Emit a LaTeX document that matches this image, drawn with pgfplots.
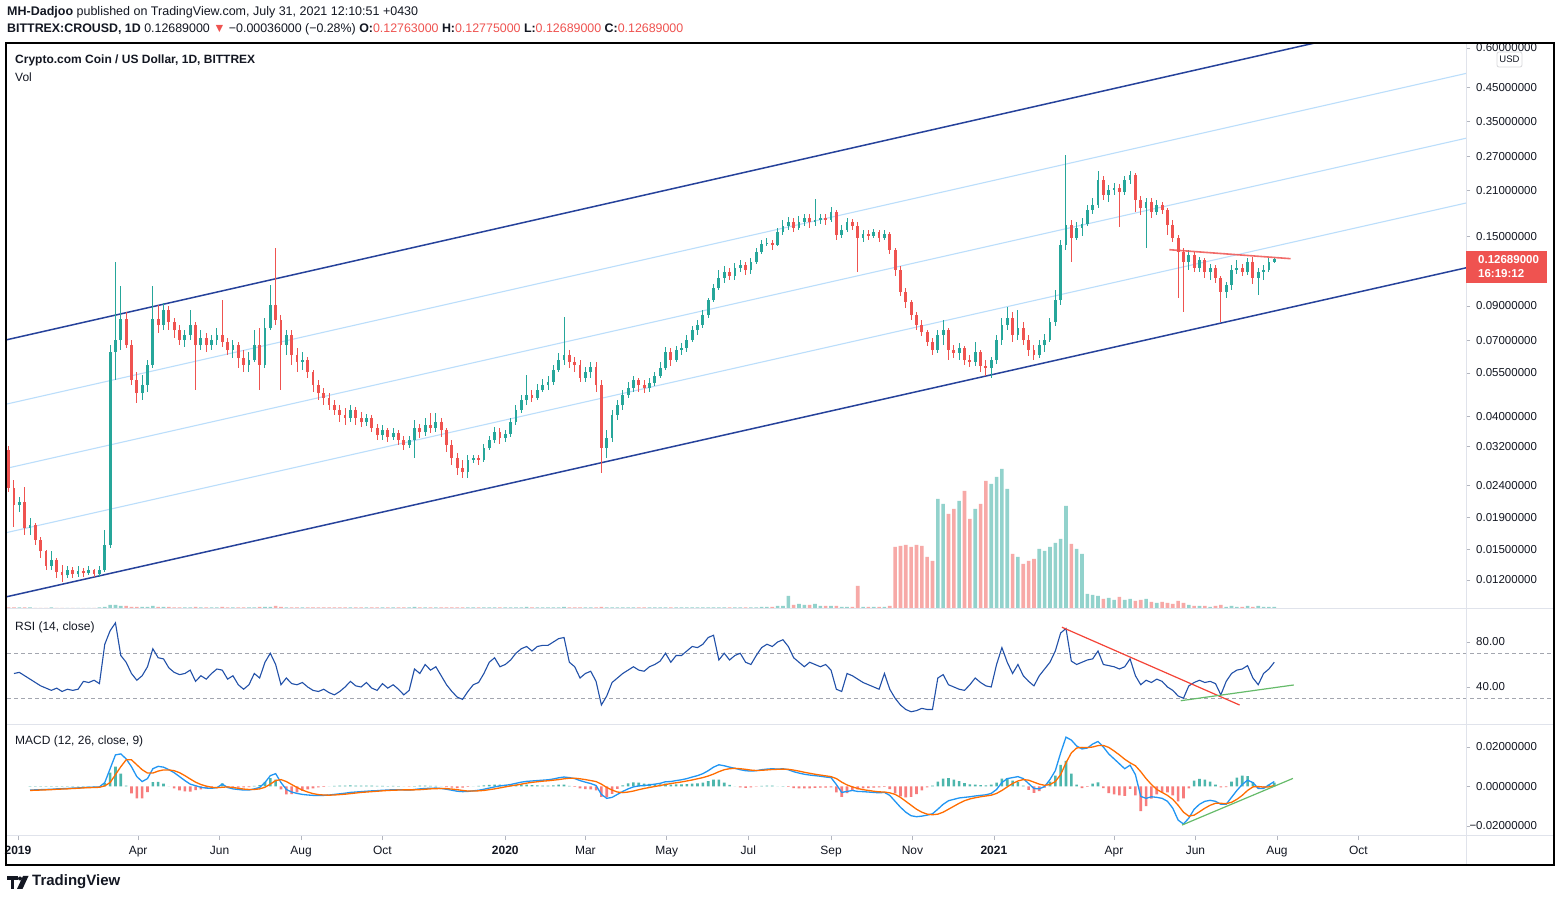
\documentclass[border=0pt]{standalone}
\usepackage{fontspec}
\setmainfont{Liberation Sans}
\usepackage{pgfplots}
\usepackage{pgfplotstable}
\pgfplotsset{compat=1.18}
\definecolor{cgreen}{HTML}{26A69A}
\definecolor{cred}{HTML}{EF5350}
\definecolor{vgreen}{HTML}{92D2CC}
\definecolor{vred}{HTML}{F7A9A7}
\definecolor{chdark}{HTML}{26429B}
\definecolor{chlight}{HTML}{BBDEFB}
\definecolor{rsic}{HTML}{2150A8}
\definecolor{macdc}{HTML}{2196F3}
\definecolor{sigc}{HTML}{FF6D00}
\definecolor{hpos}{HTML}{4DB6AC}
\definecolor{hneg}{HTML}{F77C7C}
\definecolor{txt}{HTML}{131722}
\definecolor{sepc}{HTML}{E0E3EB}
\definecolor{tickc}{HTML}{B2B5BE}
\definecolor{dashc}{HTML}{A3A6AF}
\definecolor{trred}{HTML}{F44336}
\definecolor{trgreen}{HTML}{66BB6A}

% d = days since 2019-01-01 (4-day candles); o h l c in USD; v volume (scaled); r RSI; m MACD; s signal
\pgfplotstableread{
d o h l c v r m s
-7 0.0312 0.0322 0.0229 0.0236 1.5 nan nan nan
-3 0.0236 0.0250 0.0177 0.0208 1.5 52 nan nan
1 0.0208 0.0221 0.0198 0.0213 1.5 53 nan nan
5 0.0213 0.0238 0.0167 0.0176 1.5 50 nan nan
9 0.0176 0.0189 0.0167 0.0180 1.5 47 -0.0018 -0.0020
13 0.0180 0.0183 0.0155 0.0161 1.2 44 -0.0017 -0.0019
17 0.0161 0.0164 0.0141 0.0148 1.2 41 -0.0016 -0.0018
21 0.0148 0.0150 0.0129 0.0133 1.2 39 -0.0015 -0.0017
25 0.0133 0.0148 0.0129 0.0139 1.5 37 -0.0014 -0.0016
29 0.0139 0.0141 0.0122 0.0127 1.2 39 -0.0012 -0.0014
33 0.0127 0.0134 0.0118 0.0124 1.2 36 -0.0011 -0.0013
37 0.0124 0.0133 0.0122 0.0129 1.2 38 -0.0010 -0.0012
41 0.0129 0.0132 0.0122 0.0125 1.2 37 -0.0008 -0.0010
45 0.0125 0.0133 0.0123 0.0128 1.2 38 -0.0007 -0.0009
49 0.0128 0.0131 0.0123 0.0126 1.2 45 -0.0005 -0.0007
53 0.0126 0.0133 0.0124 0.0129 1.2 44 -0.0004 -0.0006
57 0.0129 0.0130 0.0123 0.0125 1.2 46 -0.0003 -0.0005
61 0.0125 0.0133 0.0123 0.0129 1.5 43 -0.0002 -0.0004
65 0.0129 0.0173 0.0127 0.0155 2 78 0.0020 0.0003
69 0.0155 0.0675 0.0152 0.0641 4 90 0.0090 0.0020
73 0.0641 0.1245 0.0522 0.0701 4 97 0.0160 0.0060
77 0.0701 0.1040 0.0651 0.0818 3 68 0.0165 0.0100
81 0.0818 0.0861 0.0663 0.0675 3 62 0.0140 0.0135
85 0.0675 0.0701 0.0503 0.0522 2 52 0.0100 0.0135
89 0.0522 0.0553 0.0441 0.0474 2 46 0.0050 0.0110
93 0.0474 0.0541 0.0451 0.0503 2 50 0.0025 0.0085
97 0.0503 0.0605 0.0478 0.0583 2 58 0.0040 0.0068
101 0.0583 0.1040 0.0570 0.0818 3 74 0.0090 0.0068
105 0.0818 0.0907 0.0738 0.0783 2 66 0.0102 0.0078
109 0.0783 0.0918 0.0754 0.0874 2 65 0.0098 0.0084
113 0.0874 0.0900 0.0754 0.0800 2 57 0.0085 0.0084
117 0.0800 0.0824 0.0711 0.0754 1.5 53 0.0070 0.0080
121 0.0754 0.0783 0.0675 0.0701 1.5 51 0.0050 0.0070
125 0.0701 0.0754 0.0665 0.0727 1.5 52 0.0030 0.0055
129 0.0727 0.0874 0.0701 0.0783 1.5 55 0.0012 0.0038
133 0.0783 0.0800 0.0485 0.0675 2 45 0.0004 0.0022
137 0.0675 0.0754 0.0651 0.0711 1.5 50 -0.0004 0.0010
141 0.0711 0.0738 0.0642 0.0675 1.5 47 -0.0008 0.0002
145 0.0675 0.0727 0.0651 0.0701 1.5 52 -0.0009 -0.0004
149 0.0701 0.0766 0.0675 0.0727 1.5 56 -0.0006 -0.0006
153 0.0727 0.0940 0.0665 0.0691 2 55 0.0012 -0.0004
157 0.0691 0.0711 0.0627 0.0651 1.5 47 -0.0005 -0.0002
161 0.0651 0.0701 0.0614 0.0675 1.5 50 -0.0012 -0.0005
165 0.0675 0.0691 0.0570 0.0614 1.5 42 -0.0015 -0.0009
169 0.0614 0.0651 0.0553 0.0583 1.5 38 -0.0018 -0.0013
173 0.0583 0.0642 0.0553 0.0605 1.5 42 -0.0018 -0.0015
177 0.0605 0.0754 0.0596 0.0675 1.5 52 -0.0012 -0.0015
181 0.0675 0.0766 0.0485 0.0583 2 48 -0.0005 -0.0012
185 0.0583 0.0824 0.0570 0.0766 2 62 0.0020 -0.0004
189 0.0766 0.1050 0.0754 0.0907 2 70 0.0055 0.0012
193 0.0907 0.1381 0.0783 0.0812 3 60 0.0065 0.0030
197 0.0812 0.0842 0.0485 0.0675 2 42 0.0020 0.0035
201 0.0675 0.0754 0.0627 0.0727 1.5 48 -0.0015 0.0025
205 0.0727 0.0754 0.0583 0.0627 1.5 43 -0.0028 0.0010
209 0.0627 0.0660 0.0553 0.0596 1.5 42 -0.0035 -0.0005
213 0.0596 0.0642 0.0562 0.0605 1.5 44 -0.0040 -0.0018
217 0.0605 0.0618 0.0530 0.0553 1.5 40 -0.0043 -0.0028
221 0.0553 0.0562 0.0478 0.0503 1.5 37 -0.0045 -0.0036
225 0.0503 0.0522 0.0451 0.0474 1.5 36 -0.0046 -0.0041
229 0.0474 0.0492 0.0434 0.0458 1.5 38 -0.0045 -0.0043
233 0.0458 0.0474 0.0419 0.0434 1.5 35 -0.0043 -0.0044
237 0.0434 0.0451 0.0404 0.0419 1.5 33 -0.0040 -0.0043
241 0.0419 0.0434 0.0383 0.0404 1.5 36 -0.0037 -0.0041
245 0.0404 0.0425 0.0375 0.0395 1.5 40 -0.0034 -0.0039
249 0.0395 0.0434 0.0383 0.0419 1.5 45 -0.0030 -0.0036
253 0.0419 0.0428 0.0375 0.0395 1.5 41 -0.0028 -0.0033
257 0.0395 0.0413 0.0370 0.0383 1.5 40 -0.0026 -0.0030
261 0.0383 0.0407 0.0372 0.0395 1.5 44 -0.0024 -0.0028
265 0.0395 0.0404 0.0356 0.0367 1.5 39 -0.0022 -0.0026
269 0.0367 0.0378 0.0336 0.0348 1.5 37 -0.0021 -0.0024
273 0.0348 0.0375 0.0336 0.0361 1.5 43 -0.0019 -0.0022
277 0.0361 0.0367 0.0331 0.0343 1.5 39 -0.0018 -0.0020
281 0.0343 0.0367 0.0336 0.0353 1.5 42 -0.0016 -0.0019
285 0.0353 0.0361 0.0324 0.0336 1.5 38 -0.0016 -0.0018
289 0.0336 0.0346 0.0312 0.0324 1.5 33 -0.0017 -0.0017
293 0.0324 0.0346 0.0317 0.0336 1.5 37 -0.0018 -0.0017
297 0.0336 0.0389 0.0294 0.0367 2 56 -0.0015 -0.0017
301 0.0367 0.0378 0.0341 0.0356 1.5 52 -0.0012 -0.0016
305 0.0356 0.0395 0.0346 0.0375 1.5 60 -0.0010 -0.0014
309 0.0375 0.0410 0.0353 0.0367 1.5 55 -0.0009 -0.0012
313 0.0367 0.0410 0.0356 0.0383 1.5 58 -0.0008 -0.0011
317 0.0383 0.0395 0.0343 0.0361 1.5 50 -0.0010 -0.0010
321 0.0361 0.0367 0.0308 0.0324 1.5 42 -0.0014 -0.0011
325 0.0324 0.0336 0.0279 0.0294 1.5 36 -0.0019 -0.0013
329 0.0294 0.0305 0.0259 0.0273 1.5 31 -0.0024 -0.0016
333 0.0273 0.0290 0.0254 0.0265 1.5 29 -0.0026 -0.0020
337 0.0265 0.0301 0.0254 0.0290 1.5 36 -0.0025 -0.0023
341 0.0290 0.0301 0.0283 0.0294 1.5 42 -0.0022 -0.0023
345 0.0294 0.0301 0.0279 0.0290 1.5 44 -0.0019 -0.0022
349 0.0290 0.0326 0.0286 0.0317 1.5 52 -0.0014 -0.0020
353 0.0317 0.0346 0.0312 0.0336 1.5 62 -0.0008 -0.0016
357 0.0336 0.0370 0.0329 0.0356 1.5 66 -0.0002 -0.0012
361 0.0356 0.0367 0.0326 0.0341 1.5 58 0.0003 -0.0007
365 0.0341 0.0361 0.0331 0.0351 1.5 60 0.0006 -0.0002
369 0.0351 0.0395 0.0343 0.0383 1.5 64 0.0010 0.0003
373 0.0383 0.0434 0.0375 0.0419 1.5 70 0.0016 0.0007
377 0.0419 0.0467 0.0410 0.0451 1.5 74 0.0022 0.0012
381 0.0451 0.0541 0.0434 0.0467 2 76 0.0026 0.0017
385 0.0467 0.0485 0.0444 0.0458 1.5 72 0.0028 0.0021
389 0.0458 0.0507 0.0451 0.0485 1.5 76 0.0030 0.0024
393 0.0485 0.0526 0.0478 0.0503 1.5 77 0.0032 0.0027
397 0.0503 0.0537 0.0485 0.0515 1.5 77 0.0034 0.0029
401 0.0515 0.0583 0.0503 0.0562 1.5 80 0.0038 0.0032
405 0.0562 0.0637 0.0553 0.0605 1.5 83 0.0044 0.0035
409 0.0605 0.0830 0.0583 0.0627 2 84 0.0048 0.0039
413 0.0627 0.0651 0.0570 0.0596 1.5 62 0.0045 0.0042
417 0.0596 0.0618 0.0553 0.0583 1.5 58 0.0040 0.0042
421 0.0583 0.0605 0.0515 0.0530 1.5 48 0.0030 0.0039
425 0.0530 0.0574 0.0515 0.0553 1.5 52 0.0022 0.0035
429 0.0553 0.0596 0.0530 0.0575 1.5 54 0.0015 0.0030
433 0.0575 0.0596 0.0478 0.0503 1.5 45 0.0005 0.0025
437 0.0503 0.0522 0.0263 0.0317 2 24 -0.0040 0.0012
441 0.0317 0.0361 0.0294 0.0341 1.5 32 -0.0060 -0.0005
445 0.0341 0.0419 0.0331 0.0404 1.5 44 -0.0055 -0.0018
449 0.0404 0.0451 0.0389 0.0434 1.5 48 -0.0040 -0.0028
453 0.0434 0.0485 0.0419 0.0467 1.5 52 -0.0025 -0.0031
457 0.0467 0.0515 0.0458 0.0492 1.5 55 -0.0012 -0.0028
461 0.0492 0.0537 0.0478 0.0522 1.5 58 -0.0002 -0.0023
465 0.0522 0.0530 0.0478 0.0503 1.5 55 0.0003 -0.0016
469 0.0503 0.0522 0.0474 0.0492 1.5 54 0.0005 -0.0010
473 0.0492 0.0530 0.0478 0.0511 1.5 58 0.0008 -0.0005
477 0.0511 0.0553 0.0500 0.0537 1.5 60 0.0012 0.0000
481 0.0537 0.0596 0.0530 0.0570 1.5 63 0.0016 0.0005
485 0.0570 0.0665 0.0562 0.0642 1.5 70 0.0024 0.0010
489 0.0642 0.0660 0.0579 0.0605 1.5 62 0.0025 0.0015
493 0.0605 0.0670 0.0596 0.0651 1.5 68 0.0030 0.0019
497 0.0651 0.0686 0.0627 0.0660 1.5 68 0.0034 0.0023
501 0.0660 0.0727 0.0642 0.0701 1.5 72 0.0040 0.0028
505 0.0701 0.0777 0.0691 0.0754 1.5 76 0.0048 0.0033
509 0.0754 0.0812 0.0727 0.0783 1.5 75 0.0055 0.0039
513 0.0783 0.0874 0.0766 0.0842 1.5 78 0.0065 0.0045
517 0.0842 0.0954 0.0824 0.0940 1.5 84 0.0080 0.0053
521 0.0940 0.1058 0.0926 0.1027 1.5 86 0.0098 0.0063
525 0.1027 0.1173 0.1012 0.1106 1.5 64 0.0110 0.0075
529 0.1106 0.1208 0.1066 0.1156 1.5 70 0.0105 0.0085
533 0.1156 0.1190 0.1090 0.1123 1.5 64 0.0098 0.0090
537 0.1123 0.1235 0.1090 0.1190 1.5 68 0.0092 0.0092
541 0.1190 0.1262 0.1156 0.1217 1.5 70 0.0085 0.0090
545 0.1217 0.1244 0.1131 0.1173 1.5 62 0.0080 0.0087
549 0.1173 0.1281 0.1139 0.1244 1.5 60 0.0078 0.0083
553 0.1244 0.1379 0.1226 0.1339 1.5 68 0.0080 0.0081
557 0.1339 0.1462 0.1320 0.1420 2 75 0.0085 0.0082
561 0.1420 0.1484 0.1399 0.1430 2 78 0.0088 0.0084
565 0.1430 0.1462 0.1359 0.1409 2 76 0.0090 0.0086
569 0.1409 0.1597 0.1399 0.1551 3 80 0.0088 0.0087
573 0.1551 0.1694 0.1517 0.1621 3 82 0.0090 0.0088
577 0.1621 0.1731 0.1574 0.1669 13 76 0.0085 0.0087
581 0.1669 0.1719 0.1551 0.1597 4 66 0.0075 0.0083
585 0.1597 0.1744 0.1574 0.1669 5 62 0.0068 0.0078
589 0.1669 0.1770 0.1621 0.1719 4 58 0.0062 0.0072
593 0.1719 0.1770 0.1597 0.1669 4 62 0.0058 0.0067
597 0.1669 0.1976 0.1621 0.1694 5 60 0.0055 0.0062
601 0.1694 0.1770 0.1645 0.1719 3 58 0.0052 0.0058
605 0.1719 0.1770 0.1633 0.1694 3 60 0.0048 0.0054
609 0.1694 0.1863 0.1669 0.1797 3 55 0.0045 0.0050
613 0.1797 0.1823 0.1462 0.1517 3 38 0.0010 0.0040
617 0.1517 0.1633 0.1484 0.1574 2 36 -0.0030 0.0022
621 0.1574 0.1719 0.1551 0.1669 2 52 -0.0025 0.0008
625 0.1669 0.1706 0.1574 0.1621 2 50 -0.0020 -0.0002
629 0.1621 0.1669 0.1156 0.1484 23 47 -0.0025 -0.0010
633 0.1484 0.1574 0.1441 0.1528 2 44 -0.0026 -0.0016
637 0.1528 0.1574 0.1462 0.1506 2 42 -0.0028 -0.0020
641 0.1506 0.1586 0.1484 0.1551 2 40 -0.0030 -0.0024
645 0.1551 0.1574 0.1441 0.1484 2 38 -0.0032 -0.0027
649 0.1484 0.1574 0.1462 0.1528 2 52 -0.0030 -0.0028
653 0.1528 0.1551 0.1320 0.1359 3 38 -0.0045 -0.0032
657 0.1359 0.1379 0.1123 0.1173 62 30 -0.0075 -0.0040
661 0.1173 0.1208 0.0968 0.0998 63 24 -0.0105 -0.0055
665 0.0998 0.1027 0.0887 0.0926 64 20 -0.0130 -0.0075
669 0.0926 0.0940 0.0812 0.0842 62 18 -0.0148 -0.0095
673 0.0842 0.0861 0.0754 0.0783 64 19 -0.0153 -0.0115
677 0.0783 0.0812 0.0722 0.0743 63 21 -0.0150 -0.0130
681 0.0743 0.0754 0.0670 0.0691 52 20 -0.0145 -0.0140
685 0.0691 0.0711 0.0627 0.0651 48 20 -0.0138 -0.0143
689 0.0651 0.0754 0.0637 0.0727 110 48 -0.0115 -0.0140
693 0.0727 0.0812 0.0675 0.0754 105 51 -0.0090 -0.0130
697 0.0754 0.0766 0.0605 0.0651 95 42 -0.0072 -0.0115
701 0.0651 0.0675 0.0614 0.0637 100 40 -0.0065 -0.0100
705 0.0637 0.0686 0.0605 0.0660 108 38 -0.0058 -0.0085
709 0.0660 0.0670 0.0583 0.0605 118 37 -0.0055 -0.0072
713 0.0605 0.0627 0.0574 0.0596 90 42 -0.0052 -0.0063
717 0.0596 0.0691 0.0579 0.0642 100 48 -0.0048 -0.0057
721 0.0642 0.0651 0.0553 0.0579 105 44 -0.0045 -0.0052
725 0.0579 0.0605 0.0537 0.0570 128 41 -0.0042 -0.0048
729 0.0570 0.0618 0.0530 0.0605 125 40 -0.0035 -0.0044
733 0.0605 0.0727 0.0587 0.0701 132 60 -0.0015 -0.0035
737 0.0701 0.0824 0.0675 0.0783 140 75 0.0020 -0.0020
741 0.0783 0.0894 0.0754 0.0824 120 62 0.0040 -0.0002
745 0.0824 0.0861 0.0691 0.0727 55 52 0.0045 0.0015
749 0.0727 0.0874 0.0701 0.0766 52 60 0.0050 0.0028
753 0.0766 0.0800 0.0675 0.0701 45 50 0.0040 0.0035
757 0.0701 0.0727 0.0622 0.0651 48 45 0.0015 0.0032
761 0.0651 0.0675 0.0605 0.0627 50 41 -0.0010 0.0022
765 0.0627 0.0701 0.0614 0.0675 60 50 -0.0012 0.0012
769 0.0675 0.0733 0.0642 0.0701 58 56 0.0000 0.0006
773 0.0701 0.0824 0.0691 0.0800 62 62 0.0035 0.0010
777 0.0800 0.1012 0.0777 0.0940 66 72 0.0080 0.0025
781 0.0940 0.1462 0.0907 0.1409 70 88 0.0170 0.0060
785 0.1409 0.2732 0.1359 0.1633 103 92 0.0250 0.0120
789 0.1633 0.1694 0.1244 0.1484 65 63 0.0235 0.0170
793 0.1484 0.1669 0.1462 0.1597 60 60 0.0205 0.0195
797 0.1597 0.1719 0.1506 0.1645 55 62 0.0190 0.0198
801 0.1645 0.1891 0.1621 0.1823 15 64 0.0195 0.0197
805 0.1823 0.1991 0.1770 0.1891 14 65 0.0215 0.0200
809 0.1891 0.2419 0.1850 0.2273 13 72 0.0228 0.0207
813 0.2273 0.2341 0.1962 0.2035 10 60 0.0200 0.0208
817 0.2035 0.2191 0.1934 0.2112 11 59 0.0165 0.0198
821 0.2112 0.2224 0.2035 0.2143 9 58 0.0140 0.0180
825 0.2143 0.2207 0.1610 0.2081 12 56 0.0115 0.0160
829 0.2081 0.2341 0.2035 0.2273 9 58 0.0090 0.0138
833 0.2273 0.2419 0.2207 0.2358 10 65 0.0108 0.0120
837 0.2358 0.2384 0.1797 0.1962 8 50 0.0060 0.0105
841 0.1962 0.2020 0.1757 0.1850 9 42 -0.0050 0.0075
845 0.1850 0.1991 0.1379 0.1934 10 46 -0.0060 0.0040
849 0.1934 0.1991 0.1719 0.1797 7 44 -0.0052 0.0010
853 0.1797 0.1962 0.1757 0.1891 6 47 -0.0055 -0.0015
857 0.1891 0.1934 0.1770 0.1823 7 45 -0.0060 -0.0030
861 0.1823 0.1850 0.1517 0.1633 6 40 -0.0075 -0.0045
865 0.1633 0.1694 0.1441 0.1484 5 37 -0.0110 -0.0065
869 0.1484 0.1517 0.0954 0.1339 8 32 -0.0170 -0.0095
873 0.1339 0.1379 0.0861 0.1244 6 30 -0.0190 -0.0130
877 0.1244 0.1359 0.1173 0.1310 4 41 -0.0160 -0.0150
881 0.1310 0.1339 0.1156 0.1190 3 44 -0.0115 -0.0145
885 0.1190 0.1291 0.1156 0.1262 3 46 -0.0090 -0.0128
889 0.1262 0.1281 0.1106 0.1156 3 44 -0.0075 -0.0110
893 0.1156 0.1226 0.1090 0.1190 2 45 -0.0070 -0.0095
897 0.1190 0.1217 0.1066 0.1106 3 43 -0.0075 -0.0085
901 0.1106 0.1123 0.0800 0.0998 4 33 -0.0090 -0.0085
905 0.0998 0.1074 0.0954 0.1050 2 45 -0.0090 -0.0087
909 0.1050 0.1217 0.1012 0.1173 3 52 -0.0055 -0.0080
913 0.1173 0.1262 0.1139 0.1190 2 55 -0.0020 -0.0065
917 0.1190 0.1226 0.1123 0.1156 2 56 0.0010 -0.0045
921 0.1156 0.1281 0.1131 0.1244 3 59 0.0032 -0.0020
925 0.1244 0.1291 0.1058 0.1106 2 48 0.0020 -0.0002
929 0.1106 0.1190 0.0976 0.1156 3 42 -0.0010 0.0000
933 0.1156 0.1217 0.1090 0.1173 2 52 -0.0010 -0.0003
937 0.1173 0.1281 0.1156 0.1244 2 56 0.0008 -0.0002
941 0.1244 0.1277 0.1230 0.1269 2 62 0.0025 0.0005
}\ohlc

\pgfplotsset{
  tvpane/.style={anchor=south west, scale only axis, width=1459bp,
    xmin=-8.24, xmax=1084.64, axis line style={draw=none},
    ytick pos=right, yticklabel pos=right, tick align=outside,
    major tick length=4bp, tick style={draw=tickc, line width=0.8bp},
    yticklabel style={font=\fontsize{11.5bp}{13bp}\selectfont, text=txt, anchor=west, inner sep=0pt, xshift=6bp},
    scaled y ticks=false},
  up/.style={restrict expr to domain={\thisrow{c}-\thisrow{o}}{0:1}},
  down/.style={restrict expr to domain={\thisrow{c}-\thisrow{o}}{-1:-0.000000001}},
  nomk/.style={draw=none, mark=none, mark options={draw=none, fill=none}},
}

\begin{document}
\begin{tikzpicture}
\useasboundingbox (0,0) rectangle (1560bp,901bp);
\fill[white] (0,0) rectangle (1560bp,901bp);

% ---------- volume (overlay in main pane)
\begin{axis}[at={(7bp,292bp)}, anchor=south west, scale only axis, width=1459bp, height=566bp,
  xmin=-8.24, xmax=1084.64, ymin=0, ymax=566, hide axis]
\addplot[ybar, bar width=3.6bp, bar shift=0pt, fill=vgreen, draw=none, up] table[x=d,y=v]{\ohlc};
\addplot[ybar, bar width=3.6bp, bar shift=0pt, fill=vred, draw=none, down] table[x=d,y=v]{\ohlc};
\end{axis}

% ---------- price pane
\begin{axis}[tvpane, at={(7bp,292bp)}, height=566bp,
  ymode=log, ymin=0.009689, ymax=0.6224, xtick=\empty, yminorticks=false,
  ytick={0.012,0.015,0.019,0.024,0.032,0.04,0.055,0.07,0.09,0.15,0.21,0.27,0.35,0.45,0.6},
  yticklabels={0.01200000,0.01500000,0.01900000,0.02400000,0.03200000,0.04000000,0.05500000,0.07000000,0.09000000,0.15000000,0.21000000,0.27000000,0.35000000,0.45000000,0.60000000}]
% parallel channel
\addplot[chlight, line width=1.1bp] coordinates {(-9,0.04369) (1085,0.4980)};
\addplot[chlight, line width=1.1bp] coordinates {(-9,0.02724) (1085,0.3092)};
\addplot[chlight, line width=1.1bp] coordinates {(-9,0.01698) (1085,0.1920)};
\addplot[chdark, line width=1.5bp] coordinates {(-9,0.07009) (1085,0.8017)};
\addplot[chdark, line width=1.5bp] coordinates {(-9,0.01059) (1085,0.1192)};
% candles: wicks
\addplot[nomk, up, error bars/.cd, y dir=both, y explicit, error mark=none,
  error bar style={draw=cgreen, line width=1bp}]
  table[x=d, y=c, y error plus expr=\thisrow{h}-\thisrow{c}, y error minus expr=\thisrow{c}-\thisrow{l}]{\ohlc};
\addplot[nomk, down, error bars/.cd, y dir=both, y explicit, error mark=none,
  error bar style={draw=cred, line width=1bp}]
  table[x=d, y=c, y error plus expr=\thisrow{h}-\thisrow{c}, y error minus expr=\thisrow{c}-\thisrow{l}]{\ohlc};
% candles: bodies
\addplot[nomk, up, error bars/.cd, y dir=plus, y explicit, error mark=none,
  error bar style={draw=cgreen, line width=2.8bp}]
  table[x=d, y=o, y error plus expr=\thisrow{c}-\thisrow{o}]{\ohlc};
\addplot[nomk, down, error bars/.cd, y dir=plus, y explicit, error mark=none,
  error bar style={draw=cred, line width=2.8bp}]
  table[x=d, y=c, y error plus expr=\thisrow{o}-\thisrow{c}]{\ohlc};
% resistance line
\addplot[cred, opacity=0.85, line width=1.6bp] coordinates {(862.4,0.1361) (953.3,0.1274)};
\end{axis}

% ---------- RSI pane
\begin{axis}[tvpane, at={(7bp,177bp)}, height=115bp, ymin=7.11, ymax=109.33, clip=false,
  xtick=\empty, ytick={40,80}, yticklabels={40.00,80.00}]
\addplot[dashc, line width=0.8bp, dash pattern=on 4bp off 3bp] coordinates {(-8.24,70) (1150.6,70)};
\addplot[dashc, line width=0.8bp, dash pattern=on 4bp off 3bp] coordinates {(-8.24,30) (1150.6,30)};
\addplot[rsic, line width=1.1bp] table[x=d,y=r]{\ohlc};
\addplot[trred, line width=1.2bp] coordinates {(782,93.1) (915,24)};
\addplot[trgreen, line width=1.2bp] coordinates {(871,27.8) (955.6,41.8)};
\end{axis}

% ---------- MACD pane
\begin{axis}[tvpane, at={(7bp,65bp)}, height=111bp, ymin=-0.025063, ymax=0.031139,
  ytick={-0.02,0,0.02}, yticklabels={\llap{−}0.02000000,0.00000000,0.02000000},
  xtick pos=left, xticklabel pos=left,
  xtick={0,90,151,212,273,365,425,486,547,609,670,731,821,882,943,1004},
  xticklabels={\textbf{2019},Apr,Jun,Aug,Oct,\textbf{2020},Mar,May,Jul,Sep,Nov,\textbf{2021},Apr,Jun,Aug,Oct},
  xticklabel style={font=\fontsize{12bp}{14bp}\selectfont, text=txt, anchor=base, inner sep=0pt, yshift=-14bp}]
\addplot[ybar, bar width=2.6bp, bar shift=0pt, fill=hpos, draw=none,
  restrict expr to domain={\thisrow{m}-\thisrow{s}}{0:1}] table[x=d, y expr=\thisrow{m}-\thisrow{s}]{\ohlc};
\addplot[ybar, bar width=2.6bp, bar shift=0pt, fill=hneg, draw=none,
  restrict expr to domain={\thisrow{m}-\thisrow{s}}{-1:-0.000000001}] table[x=d, y expr=\thisrow{m}-\thisrow{s}]{\ohlc};
\addplot[macdc, line width=1.3bp] table[x=d,y=m]{\ohlc};
\addplot[sigc, line width=1.3bp] table[x=d,y=s]{\ohlc};
\addplot[trgreen, line width=1.2bp] coordinates {(872,-0.0195) (955,0.0041)};
\end{axis}

% ---------- frame, separators, texts
\begin{scope}[x=1bp,y=1bp]
\draw[sepc, line width=1bp] (6,292) -- (1554,292);
\draw[sepc, line width=1bp] (6,176.5) -- (1554,176.5);
\draw[sepc, line width=1bp] (6,65) -- (1554,65);
\draw[sepc, line width=1bp] (1466,36) -- (1466,858);
\draw[black, line width=1.3bp] (6,36) rectangle (1554,858);

% current price label
\fill[cred] (1466,650) rectangle (1547,618);
\node[anchor=west, inner sep=0, text=white, font=\fontsize{11.5bp}{13bp}\selectfont\bfseries] at (1478,641.5) {0.12689000};
\node[anchor=west, inner sep=0, text=white, font=\fontsize{11.5bp}{13bp}\selectfont\bfseries] at (1478,627) {16:19:12};
% USD badge
\draw[sepc!70!black!40, fill=white, rounded corners=2bp, line width=0.8bp] (1497,849) rectangle (1522,834);
\node[inner sep=0, text=txt, font=\fontsize{9.5bp}{11bp}\selectfont] at (1509.5,841.5) {USD};

% header
\node[anchor=west, inner sep=0, text=txt, font=\fontsize{12.5bp}{14bp}\selectfont] at (7,889)
  {\textbf{MH-Dadjoo} published on TradingView.com, July 31, 2021 12:10:51 +0430};
\node[anchor=west, inner sep=0, text=txt, font=\fontsize{12.4bp}{14bp}\selectfont] at (7,872)
  {\textbf{BITTREX:CROUSD, 1D}\ 0.12689000 {\color{cred}▼} −0.00036000 (−0.28\%) \textbf{O:}{\color{cred}0.12763000} \textbf{H:}{\color{cred}0.12775000} \textbf{L:}{\color{cred}0.12689000} \textbf{C:}{\color{cred}0.12689000}};

% pane titles
\node[anchor=west, inner sep=0, text=txt, font=\fontsize{12bp}{14bp}\selectfont\bfseries] at (15,841) {Crypto.com Coin / US Dollar, 1D, BITTREX};
\node[anchor=west, inner sep=0, text=txt, font=\fontsize{12bp}{14bp}\selectfont] at (15,824) {Vol};
\node[anchor=west, inner sep=0, text=txt, font=\fontsize{12bp}{14bp}\selectfont] at (15,274) {RSI (14, close)};
\node[anchor=west, inner sep=0, text=txt, font=\fontsize{12bp}{14bp}\selectfont] at (15,160) {MACD (12, 26, close, 9)};

% TradingView logo
\fill[txt] (7,25) rectangle (17.5,21);
\fill[txt] (10.5,21) rectangle (14,12);
\fill[txt] (20,22.5) circle (2bp);
\fill[txt] (23,25) -- (28.5,25) -- (22.5,12) -- (17,12) -- cycle;
\node[anchor=west, inner sep=0, text=txt, font=\fontsize{15bp}{17bp}\selectfont\bfseries] at (32,19) {TradingView};
\end{scope}
\end{tikzpicture}
\end{document}
